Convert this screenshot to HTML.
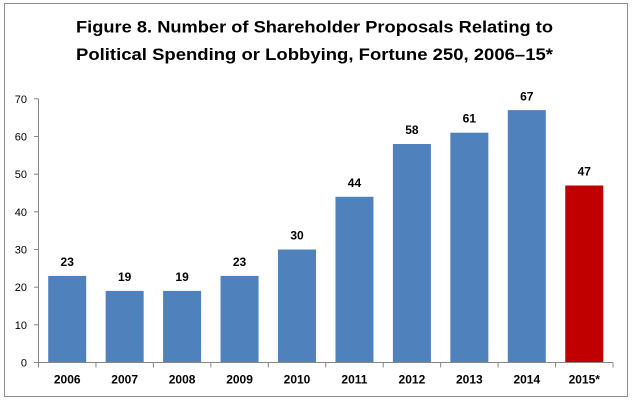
<!DOCTYPE html>
<html>
<head>
<meta charset="utf-8">
<style>
  html,body{margin:0;padding:0;background:#fff;}
  svg{display:block;}
  text{font-family:"Liberation Sans",Arial,sans-serif;}
</style>
</head>
<body>
<svg width="635" height="401" viewBox="0 0 635 401" xmlns="http://www.w3.org/2000/svg">
  <rect x="0" y="0" width="635" height="401" fill="#fff"/>
  <rect x="4.5" y="3.5" width="623" height="393" fill="#fff" stroke="#8c8c8c" stroke-width="1"/>

  <!-- Title -->
  <text x="76" y="32.3" font-size="17" font-weight="bold" fill="#000" textLength="477" lengthAdjust="spacingAndGlyphs">Figure 8. Number of Shareholder Proposals Relating to</text>
  <text x="76" y="60" font-size="17" font-weight="bold" fill="#000" textLength="477" lengthAdjust="spacingAndGlyphs">Political Spending or Lobbying, Fortune 250, 2006–15*</text>

  <!-- Bars -->
  <g fill="#4F81BD">
    <rect x="48.2" y="275.9" width="38" height="86.6"/>
    <rect x="105.65" y="290.9" width="38" height="71.6"/>
    <rect x="163.1" y="290.9" width="38" height="71.6"/>
    <rect x="220.55" y="275.9" width="38" height="86.6"/>
    <rect x="278" y="249.5" width="38" height="113"/>
    <rect x="335.45" y="196.8" width="38" height="165.7"/>
    <rect x="392.9" y="144" width="38" height="218.5"/>
    <rect x="450.35" y="132.7" width="38" height="229.8"/>
    <rect x="507.8" y="110.1" width="38" height="252.4"/>
  </g>
  <rect x="565.25" y="185.5" width="38" height="177" fill="#C00000"/>

  <!-- Data labels -->
  <g font-size="12" font-weight="bold" fill="#000" text-anchor="middle">
    <text x="67.2" y="266">23</text>
    <text x="124.65" y="281">19</text>
    <text x="182.1" y="281">19</text>
    <text x="239.55" y="266">23</text>
    <text x="297" y="239.5">30</text>
    <text x="354.45" y="187">44</text>
    <text x="411.9" y="134">58</text>
    <text x="469.35" y="122.7">61</text>
    <text x="526.8" y="100.5">67</text>
    <text x="584.25" y="175.5">47</text>
  </g>

  <!-- Axes -->
  <g stroke="#868686" stroke-width="1" fill="none">
    <line x1="38.5" y1="98.5" x2="38.5" y2="362.5"/>
    <line x1="38.5" y1="362.5" x2="613" y2="362.5"/>
    <!-- y ticks -->
    <line x1="34" y1="362.5" x2="38.5" y2="362.5"/>
    <line x1="34" y1="324.8" x2="38.5" y2="324.8"/>
    <line x1="34" y1="287.2" x2="38.5" y2="287.2"/>
    <line x1="34" y1="249.5" x2="38.5" y2="249.5"/>
    <line x1="34" y1="211.8" x2="38.5" y2="211.8"/>
    <line x1="34" y1="174.2" x2="38.5" y2="174.2"/>
    <line x1="34" y1="136.5" x2="38.5" y2="136.5"/>
    <line x1="34" y1="98.8" x2="38.5" y2="98.8"/>
    <!-- x ticks -->
    <line x1="38.5" y1="362.5" x2="38.5" y2="367.5"/>
    <line x1="95.95" y1="362.5" x2="95.95" y2="367.5"/>
    <line x1="153.4" y1="362.5" x2="153.4" y2="367.5"/>
    <line x1="210.85" y1="362.5" x2="210.85" y2="367.5"/>
    <line x1="268.3" y1="362.5" x2="268.3" y2="367.5"/>
    <line x1="325.75" y1="362.5" x2="325.75" y2="367.5"/>
    <line x1="383.2" y1="362.5" x2="383.2" y2="367.5"/>
    <line x1="440.65" y1="362.5" x2="440.65" y2="367.5"/>
    <line x1="498.1" y1="362.5" x2="498.1" y2="367.5"/>
    <line x1="555.55" y1="362.5" x2="555.55" y2="367.5"/>
    <line x1="613" y1="362.5" x2="613" y2="367.5"/>
  </g>

  <!-- Y labels -->
  <g font-size="11" fill="#000" text-anchor="end">
    <text x="27" y="366.5">0</text>
    <text x="27" y="328.8">10</text>
    <text x="27" y="291.2">20</text>
    <text x="27" y="253.5">30</text>
    <text x="27" y="215.8">40</text>
    <text x="27" y="178.2">50</text>
    <text x="27" y="140.5">60</text>
    <text x="27" y="102.8">70</text>
  </g>

  <!-- X labels -->
  <g font-size="12" font-weight="bold" fill="#000" text-anchor="middle">
    <text x="67.2" y="383.3">2006</text>
    <text x="124.65" y="383.3">2007</text>
    <text x="182.1" y="383.3">2008</text>
    <text x="239.55" y="383.3">2009</text>
    <text x="297" y="383.3">2010</text>
    <text x="354.45" y="383.3">2011</text>
    <text x="411.9" y="383.3">2012</text>
    <text x="469.35" y="383.3">2013</text>
    <text x="526.8" y="383.3">2014</text>
    <text x="584.25" y="383.3">2015*</text>
  </g>
</svg>
</body>
</html>
